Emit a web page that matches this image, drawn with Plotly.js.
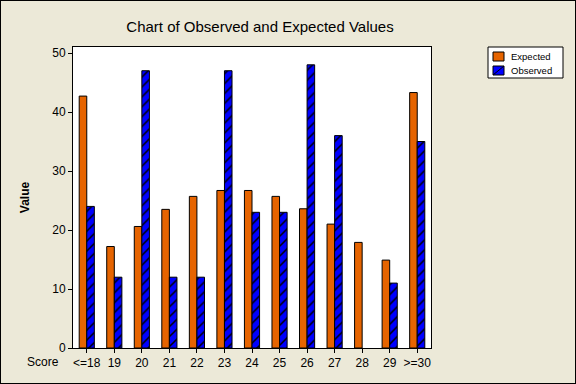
<!DOCTYPE html>
<html>
<head>
<meta charset="utf-8">
<script src="https://cdn.plot.ly/plotly-3.0.1.min.js"></script>
<style>
html,body{margin:0;padding:0;background:#ECE9D8;}
#chart{width:574px;height:382px;border:1px solid #000;}
</style>
</head>
<body>
<div id="chart"></div>
<script>
const categories = ["<=18","19","20","21","22","23","24","25","26","27","28","29",">=30"];
const expected = [42.7,17.2,20.6,23.5,25.7,26.7,26.7,25.7,23.6,21.0,17.9,14.9,43.3];
const observed = [24,12,47,12,12,47,23,23,48,36,null,11,35];
const seriesNames = ["Expected","Observed"];

const font = "Liberation Sans, Arial, sans-serif";
const orange = "rgb(230,100,0)";
const blue = "rgb(0,0,255)";

const traces = [
  {
    type: "bar", name: seriesNames[0], x: categories, y: expected,
    marker: {color: orange, line: {color: "#000", width: 1}}
  },
  {
    type: "bar", name: seriesNames[1], x: categories, y: observed,
    marker: {
      color: blue,
      line: {color: "#000", width: 1},
      pattern: {shape: "/", fillmode: "replace", bgcolor: blue, fgcolor: "#000", size: 7, solidity: 0.22}
    }
  }
];

// plot area in pixels (div coords)
const L = 72, T = 46, W = 358, H = 301;
const px = v => (v - L) / W;
const py = v => 1 - (v - T) / H;

const shapes = [
  {type: "rect", xref: "paper", yref: "paper", x0: px(487), x1: px(562), y0: py(77), y1: py(46), fillcolor: "#FFFFFF", line: {color: "#000", width: 1}},
  {type: "rect", xref: "paper", yref: "paper", x0: px(492), x1: px(503), y0: py(60), y1: py(51), fillcolor: orange, line: {color: "#000", width: 1}},
  {type: "rect", xref: "paper", yref: "paper", x0: px(492), x1: px(503), y0: py(74), y1: py(65), fillcolor: blue, line: {color: "#000", width: 1}},
  {type: "line", xref: "paper", yref: "paper", x0: px(492), x1: px(503), y0: py(74), y1: py(65), line: {color: "#000", width: 1}}
];

const layout = {
  width: 574, height: 382,
  margin: {l: L, r: 574 - L - W, t: T, b: 382 - T - H, pad: 0},
  paper_bgcolor: "#ECE9D8",
  plot_bgcolor: "#FFFFFF",
  font: {family: font, size: 12, color: "#000"},
  title: {text: "Chart of Observed and Expected Values", font: {family: font, size: 15, color: "#000"}, x: px(259), xref: "paper", xanchor: "center", yref: "container", y: 1 - 26/382, yanchor: "middle"},
  barmode: "group",
  bargap: 0.45,
  bargroupgap: 0,
  showlegend: false,
  xaxis: {
    type: "category", range: [-0.5, 12.5],
    showline: true, linecolor: "#000", linewidth: 1, mirror: true,
    ticks: "outside", ticklen: 4, tickcolor: "#000",
    showgrid: false, zeroline: false,
    tickfont: {family: font, size: 12, color: "#000"}
  },
  yaxis: {
    range: [0, 51.02],
    tickvals: [0,10,20,30,40,50],
    showline: true, linecolor: "#000", linewidth: 1, mirror: true,
    ticks: "outside", ticklen: 4, tickcolor: "#000",
    showgrid: false, zeroline: false,
    tickfont: {family: font, size: 12, color: "#000"},
    title: {text: "<b>Value</b>", font: {family: font, size: 12, color: "#000"}, standoff: 20}
  },
  shapes: shapes,
  annotations: [
    {text: "Score", xref: "paper", yref: "paper", x: px(42), y: py(361), xanchor: "center", yanchor: "middle", showarrow: false, font: {family: font, size: 12, color: "#000"}},
    {text: seriesNames[0], xref: "paper", yref: "paper", x: px(508), y: py(55.5), xanchor: "left", yanchor: "middle", showarrow: false, font: {family: font, size: 9.5, color: "#000"}},
    {text: seriesNames[1], xref: "paper", yref: "paper", x: px(508), y: py(69.5), xanchor: "left", yanchor: "middle", showarrow: false, font: {family: font, size: 9.5, color: "#000"}}
  ]
};

Plotly.newPlot("chart", traces, layout, {displayModeBar: false, staticPlot: true});
</script>
</body>
</html>
